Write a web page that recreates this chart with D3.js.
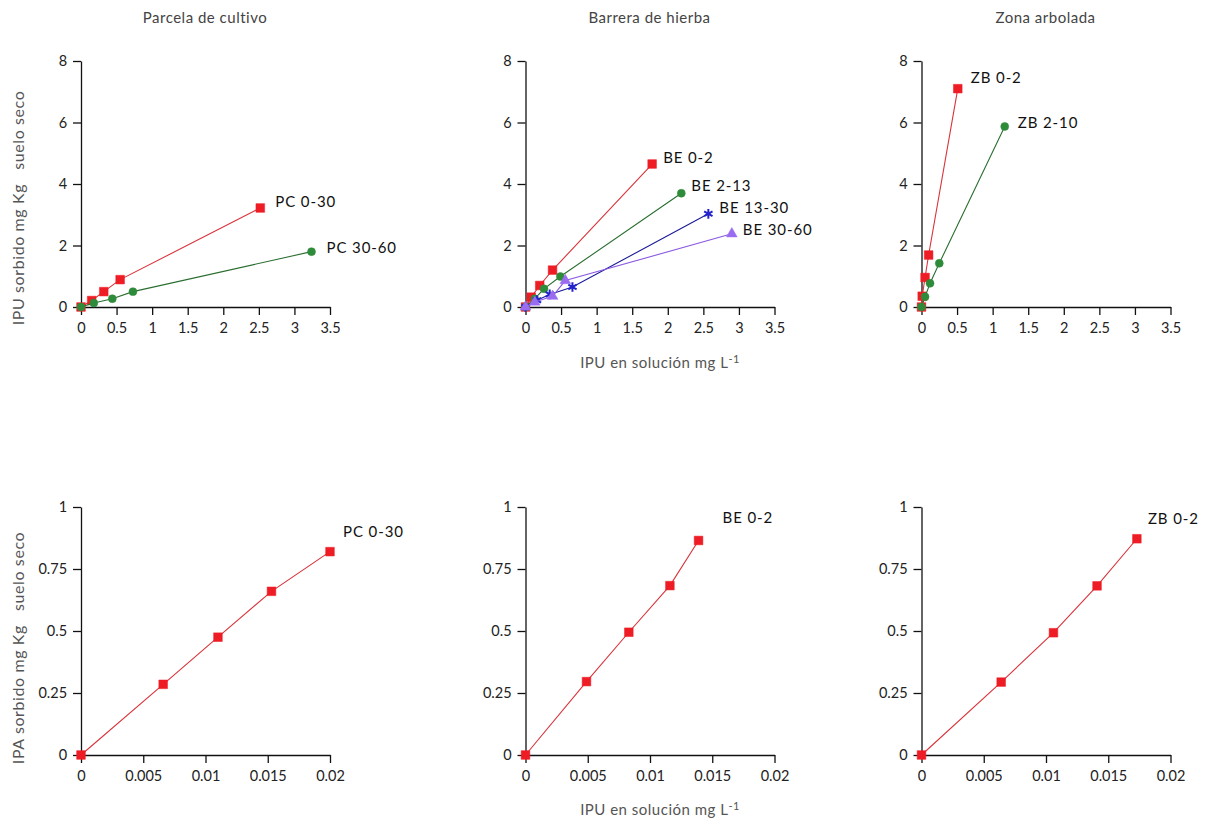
<!DOCTYPE html>
<html><head><meta charset="utf-8">
<script src="https://cdn.jsdelivr.net/npm/d3@7"></script>
<style>
body{margin:0;background:#fff;}
text{font-family:"Lato","DejaVu Sans",sans-serif;}
</style></head>
<body><svg id="c" width="1212" height="833"></svg>
<script>
// ---- data ----
const panelTitles = ["Parcela de cultivo", "Barrera de hierba", "Zona arbolada"];
const xTicksTop = [0, 0.5, 1, 1.5, 2, 2.5, 3, 3.5];
const yTicksTop = [0, 2, 4, 6, 8];
const xTicksBottom = [0, 0.005, 0.01, 0.015, 0.02];
const yTicksBottom = [0, 0.25, 0.5, 0.75, 1];

const pc030 = [[0,0],[0.15,0.21],[0.32,0.5],[0.55,0.89],[2.52,3.22]];
const pc3060 = [[0,0],[0.18,0.13],[0.44,0.27],[0.73,0.5],[3.24,1.8]];
const be02 = [[0,0],[0.08,0.32],[0.2,0.7],[0.38,1.2],[1.78,4.65]];
const be213 = [[0,0],[0.13,0.27],[0.26,0.59],[0.49,0.99],[2.19,3.7]];
const be1330 = [[0,0],[0.16,0.22],[0.34,0.41],[0.66,0.65],[2.57,3.03]];
const be3060 = [[0,0],[0.13,0.16],[0.38,0.35],[0.56,0.86],[2.9,2.38]];
const zb02 = [[0,0],[0.01,0.35],[0.05,0.96],[0.1,1.69],[0.51,7.1]];
const zb210 = [[0,0],[0.05,0.33],[0.12,0.77],[0.25,1.42],[1.17,5.87]];
const ipaPc030 = [[0,0],[0.0066,0.285],[0.011,0.475],[0.0153,0.66],[0.02,0.82]];
const ipaBe02 = [[0,0],[0.0049,0.296],[0.0083,0.495],[0.0116,0.683],[0.0139,0.865]];
const ipaZb02 = [[0,0],[0.0064,0.294],[0.0106,0.493],[0.0141,0.682],[0.0173,0.872]];

const seriesNames = {pc030:"PC 0-30", pc3060:"PC 30-60", be02:"BE 0-2", be213:"BE 2-13",
  be1330:"BE 13-30", be3060:"BE 30-60", zb02:"ZB 0-2", zb210:"ZB 2-10"};

const yLabelTop = "IPU sorbido mg Kg   suelo seco";
const yLabelBottom = "IPA sorbido mg Kg   suelo seco";
const xLabel = "IPU en solución mg L";

// ---- styles ----
const RED = {fill:"#ee1c25", line:"#d9333a", sym:d3.symbolSquare, size:75};
const GREEN = {fill:"#2e8b3a", line:"#2a6e30", sym:d3.symbolCircle, size:50};
const BLUE = {fill:"#2222cc", line:"#1a1a99", sym:d3.symbolAsterisk, size:65, stroke:true};
const PURPLE = {fill:"#9a6cf0", line:"#8a5ae0", sym:d3.symbolTriangle, size:50};

const svg = d3.select("#c");
const W = 249;
const lefts = [81, 525.5, 921.5];
const topRow = {y0:307, y1:61, xmax:3.5, ymax:8, xt:xTicksTop, yt:yTicksTop};
const botRow = {y0:755, y1:507, xmax:0.02, ymax:1, xt:xTicksBottom, yt:yTicksBottom};

const panels = [
  {row:topRow, col:0, series:[[pc030,"pc030",RED,[15,-5]],[pc3060,"pc3060",GREEN,[15,-2]]]},
  {row:topRow, col:1, series:[[be02,"be02",RED,[11,-5]],[be213,"be213",GREEN,[10,-6]],[be1330,"be1330",BLUE,[11,-5]],[be3060,"be3060",PURPLE,[11,-3]]]},
  {row:topRow, col:2, series:[[zb02,"zb02",RED,[13,-9]],[zb210,"zb210",GREEN,[13,-2]]]},
  {row:botRow, col:0, series:[[ipaPc030,"pc030",RED,[13,-18]]]},
  {row:botRow, col:1, series:[[ipaBe02,"be02",RED,[24,-21]]]},
  {row:botRow, col:2, series:[[ipaZb02,"zb02",RED,[11,-19]]]}
];

panels.forEach(p => {
  const L = lefts[p.col];
  const x = d3.scaleLinear().domain([0, p.row.xmax]).range([L, L + W]);
  const y = d3.scaleLinear().domain([0, p.row.ymax]).range([p.row.y0, p.row.y1]);
  const g = svg.append("g");

  const xa = g.append("g").attr("transform", `translate(0,${p.row.y0})`)
    .call(d3.axisBottom(x).tickValues(p.row.xt).tickFormat(d => String(d)).tickSize(8).tickSizeOuter(0));
  const ya = g.append("g").attr("transform", `translate(${L},0)`)
    .call(d3.axisLeft(y).tickValues(p.row.yt).tickFormat(d => String(d)).tickSize(8).tickSizeOuter(0));
  [xa, ya].forEach(a => {
    a.select(".domain").attr("stroke", "#111").attr("stroke-width", 1.3);
    a.selectAll(".tick line").attr("stroke", "#111").attr("stroke-width", 1.3);
    a.selectAll("text").attr("fill", "#222").style("font-size", "14.5px");
  });
  xa.selectAll("text").attr("dy", "1.05em");
  ya.selectAll("text").attr("dx", "-0.2em");

  p.series.forEach(([data, key, st, off]) => {
    g.append("path").datum(data)
      .attr("d", d3.line().x(d => x(d[0])).y(d => y(d[1])))
      .attr("fill", "none").attr("stroke", st.line).attr("stroke-width", 1.1);
    const sym = d3.symbol().type(st.sym).size(st.size);
    g.selectAll(null).data(data).enter().append("path")
      .attr("transform", d => `translate(${x(d[0])},${y(d[1])})`)
      .attr("d", sym)
      .attr("fill", st.stroke ? "none" : st.fill)
      .attr("stroke", st.fill).attr("stroke-width", st.stroke ? 2 : 0.5);
    const last = data[data.length - 1];
    g.append("text").attr("x", x(last[0]) + off[0]).attr("y", y(last[1]) + off[1])
      .attr("dominant-baseline", "middle").attr("fill", "#111")
      .style("font-size", "15px").style("letter-spacing", "0.9px")
      .text(seriesNames[key]);
  });
});

// titles
panelTitles.forEach((t, i) => {
  svg.append("text").attr("x", lefts[i] + 124).attr("y", 23).attr("text-anchor", "middle")
    .attr("fill", "#444").style("font-size", "15px").style("letter-spacing", "0.5px").text(t);
});

// x labels
[368, 815].forEach(yy => {
  const t = svg.append("text").attr("x", 660).attr("y", yy).attr("text-anchor", "middle")
    .attr("fill", "#555").style("font-size", "15px").style("letter-spacing", "0.5px");
  t.append("tspan").text(xLabel);
  t.append("tspan").attr("dy", "-0.5em").style("font-size", "11px").text("-1");
});

// y labels
[[yLabelTop, 208], [yLabelBottom, 648]].forEach(([txt, cy]) => {
  svg.append("text").attr("transform", `translate(24,${cy}) rotate(-90)`)
    .attr("text-anchor", "middle").attr("fill", "#555")
    .style("font-size", "16px").style("letter-spacing", "0.6px")
    .attr("xml:space", "preserve").style("white-space", "pre").text(txt);
});
</script></body></html>
